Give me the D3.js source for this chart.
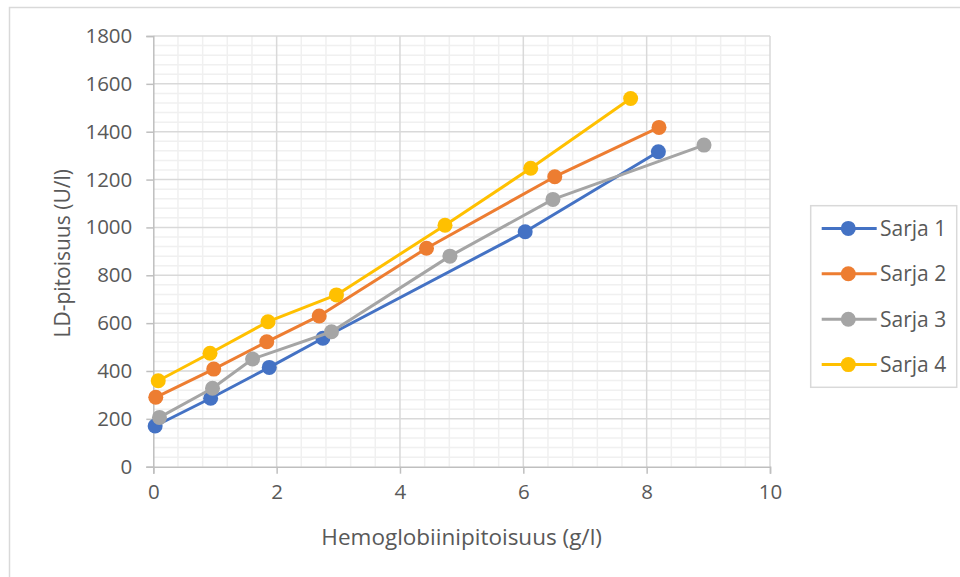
<!DOCTYPE html>
<html>
<head>
<meta charset="utf-8">
<script src="https://cdn.jsdelivr.net/npm/d3@7"></script>
<style>
  html, body { margin: 0; padding: 0; background: #fff; }
  svg { display: block; font-family: "Open Sans", "Noto Sans", sans-serif; }
</style>
</head>
<body>
<svg id="chart" width="960" height="577"></svg>
<script>
// Series names and measured points (hemoglobin g/l, LD U/l)
const seriesNames = ["Sarja 1", "Sarja 2", "Sarja 3", "Sarja 4"];
const seriesColors = ["#4472C4", "#ED7D31", "#A5A5A5", "#FFC000"];

const sarja1X = [0.03, 0.93, 1.88, 2.75, 6.03, 8.19];
const sarja1Y = [170, 286, 415, 537, 982, 1316];

const sarja2X = [0.04, 0.98, 1.84, 2.69, 4.43, 6.51, 8.20];
const sarja2Y = [290, 408, 522, 630, 913, 1212, 1418];

const sarja3X = [0.10, 0.96, 1.61, 2.89, 4.81, 6.48, 8.93];
const sarja3Y = [206, 328, 450, 564, 880, 1117, 1344];

const sarja4X = [0.08, 0.92, 1.86, 2.97, 4.73, 6.12, 7.74];
const sarja4Y = [359, 474, 606, 718, 1009, 1247, 1539];

const xTicks = [0, 2, 4, 6, 8, 10];
const yTicks = [0, 200, 400, 600, 800, 1000, 1200, 1400, 1600, 1800];

const xTitle = "Hemoglobiinipitoisuus (g/l)";
const yTitle = "LD-pitoisuus (U/l)";

const seriesX = [sarja1X, sarja2X, sarja3X, sarja4X];
const seriesY = [sarja1Y, sarja2Y, sarja3Y, sarja4Y];
const series = seriesNames.map((name, i) => ({
  name,
  color: seriesColors[i],
  points: seriesX[i].map((x, j) => ({ x, y: seriesY[i][j] }))
}));

const svg = d3.select("#chart");
const textColor = "#595959";

// Chart area frame
svg.append("rect")
  .attr("x", 9.5).attr("y", 7.5)
  .attr("width", 960).attr("height", 580)
  .attr("fill", "#fff")
  .attr("stroke", "#d9d9d9").attr("stroke-width", 1.5);

const plot = { left: 153.3, right: 770, top: 36, bottom: 466.7 };

const x = d3.scaleLinear().domain([0, 10]).range([plot.left, plot.right]);
const y = d3.scaleLinear().domain([0, 1800]).range([plot.bottom, plot.top]);

// Minor gridlines
const g = svg.append("g");
const minorX = d3.range(0, 10.001, 0.4).filter(v => Math.abs(v / 2 - Math.round(v / 2)) > 1e-6);
const minorY = d3.range(0, 1800.001, 40).filter(v => v % 200 !== 0);

g.selectAll(".mx").data(minorX).join("line")
  .attr("x1", d => x(d)).attr("x2", d => x(d))
  .attr("y1", plot.top).attr("y2", plot.bottom)
  .attr("stroke", "#f0f0f0").attr("stroke-width", 1.5);
g.selectAll(".my").data(minorY).join("line")
  .attr("x1", plot.left).attr("x2", plot.right)
  .attr("y1", d => y(d)).attr("y2", d => y(d))
  .attr("stroke", "#f0f0f0").attr("stroke-width", 1.5);

// Major gridlines
g.selectAll(".Mx").data(xTicks.filter(d => d !== 0)).join("line")
  .attr("x1", d => x(d)).attr("x2", d => x(d))
  .attr("y1", plot.top).attr("y2", plot.bottom)
  .attr("stroke", "#d9d9d9").attr("stroke-width", 1.5);
g.selectAll(".My").data(yTicks.filter(d => d !== 0)).join("line")
  .attr("x1", plot.left).attr("x2", plot.right)
  .attr("y1", d => y(d)).attr("y2", d => y(d))
  .attr("stroke", "#d9d9d9").attr("stroke-width", 1.5);

// Axes
const xAxis = svg.append("g")
  .attr("transform", `translate(0,${plot.bottom})`)
  .call(d3.axisBottom(x).tickValues(xTicks).tickSize(7).tickPadding(11).tickFormat(d3.format("d")));
const yAxis = svg.append("g")
  .attr("transform", `translate(${plot.left},0)`)
  .call(d3.axisLeft(y).tickValues(yTicks).tickSize(7).tickPadding(14).tickFormat(d3.format("d")));

[xAxis, yAxis].forEach(a => {
  a.select(".domain").attr("stroke", "#bfbfbf").attr("stroke-width", 1.5);
  a.selectAll(".tick line").attr("stroke", "#bfbfbf").attr("stroke-width", 1.5);
  a.selectAll(".tick text")
    .attr("fill", textColor)
    .style("font-size", "20.5px")
    .style("font-family", "'Open Sans', sans-serif");
});

// Axis titles
svg.append("text")
  .attr("x", (plot.left + plot.right) / 2).attr("y", 545)
  .attr("text-anchor", "middle")
  .attr("fill", textColor)
  .style("font-size", "22.5px")
  .text(xTitle);

svg.append("text")
  .attr("transform", `translate(70,${(plot.top + plot.bottom) / 2 + 2}) rotate(-90)`)
  .attr("text-anchor", "middle")
  .attr("fill", textColor)
  .style("font-size", "21px")
  .text(yTitle);

// Series lines and markers
const line = d3.line().x(d => x(d.x)).y(d => y(d.y));
const sg = svg.append("g");
series.forEach(s => {
  sg.append("path")
    .datum(s.points)
    .attr("d", line)
    .attr("fill", "none")
    .attr("stroke", s.color)
    .attr("stroke-width", 3)
    .attr("stroke-linejoin", "round");
  sg.selectAll(null).data(s.points).join("circle")
    .attr("cx", d => x(d.x)).attr("cy", d => y(d.y))
    .attr("r", 7.5)
    .attr("fill", s.color);
});

// Legend
const legend = svg.append("g");
legend.append("rect")
  .attr("x", 810.7).attr("y", 205.7)
  .attr("width", 146).attr("height", 181.6)
  .attr("fill", "#fff")
  .attr("stroke", "#d9d9d9").attr("stroke-width", 1.5);

const rowY = d3.scaleBand().domain(seriesNames).range([205.7, 387.3]);
const items = legend.selectAll(".item").data(series).join("g")
  .attr("transform", d => `translate(0,${rowY(d.name) + rowY.bandwidth() / 2})`);
items.append("line")
  .attr("x1", 821.7).attr("x2", 876.7)
  .attr("stroke", d => d.color).attr("stroke-width", 3);
items.append("circle")
  .attr("cx", 848.3).attr("r", 7.5)
  .attr("fill", d => d.color);
items.append("text")
  .attr("x", 880).attr("dy", "0.35em")
  .attr("fill", textColor)
  .style("font-size", "21px")
  .text(d => d.name);
</script>
</body>
</html>
